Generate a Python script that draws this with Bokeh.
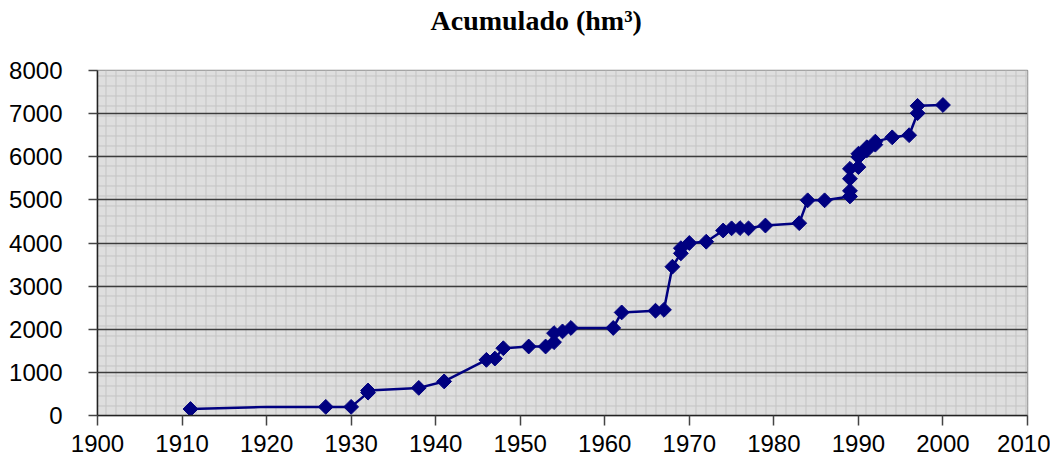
from bokeh.plotting import figure
from bokeh.models import Range1d, BoxAnnotation, SingleIntervalTicker, Title
from bokeh.embed import file_html
from bokeh.resources import INLINE
import numpy as np

title_text = "Acumulado (hm³)"

years = [1911, 1927, 1930, 1932, 1932, 1938, 1941, 1946, 1947, 1948, 1951, 1953,
         1954, 1954, 1955, 1956, 1961, 1962, 1966, 1967, 1968, 1969, 1969, 1970,
         1972, 1974, 1975, 1976, 1977, 1979, 1983, 1984, 1986, 1989, 1989, 1989,
         1989, 1990, 1990, 1990, 1991, 1991, 1992, 1992, 1994, 1996, 1997, 1997, 2000]
values = [150, 200, 200, 530, 580, 640, 790, 1290, 1320, 1560, 1600, 1600,
          1700, 1910, 1950, 2030, 2030, 2390, 2430, 2450, 3450, 3760, 3880, 4000,
          4030, 4290, 4340, 4345, 4340, 4405, 4460, 4990, 4990, 5080, 5210, 5490,
          5720, 5760, 5990, 6070, 6150, 6220, 6280, 6350, 6450, 6500, 7010, 7180, 7200]

# point on the line with no marker
unmarked_year = [1920]
unmarked_value = [200]

line_x = [years[0]] + unmarked_year + years[1:]
line_y = [values[0]] + unmarked_value + values[1:]

p = figure(width=1050, height=466, output_backend="svg", toolbar_location=None,
           x_range=Range1d(1900, 2010), y_range=Range1d(0, 8000),
           min_border_left=97, min_border_right=23, min_border_top=70, min_border_bottom=51,
           title=title_text)

p.background_fill_color = "white"
p.border_fill_color = "white"
p.outline_line_color = "#909090"
p.outline_line_width = 1.5

p.title.text_font = "Liberation Serif"
p.title.text_font_style = "bold"
p.title.text_font_size = "28px"
p.title.align = "left"
p.title.vertical_align = "top"
p.title.offset = 333
p.title.standoff = 8
p.title.text_color = "black"

# blank spacer between the title and the plot area, pushes the title upwards
spacer = Title(text=" ", text_font="Liberation Sans", text_font_size="10px", standoff=16)
p.add_layout(spacer, "above")

bg = BoxAnnotation(fill_color="#dedede", fill_alpha=1.0, line_color=None,
                   hatch_pattern="+", hatch_color="#c3c3c3", hatch_scale=10,
                   hatch_weight=1, level="image")
p.add_layout(bg)

p.xgrid.grid_line_color = None
p.ygrid.grid_line_color = "#3c3c3c"
p.ygrid.grid_line_width = 1.3

p.xaxis.ticker = SingleIntervalTicker(interval=10)
p.yaxis.ticker = SingleIntervalTicker(interval=1000)
p.xaxis.minor_tick_line_color = None
p.yaxis.minor_tick_line_color = None
for ax in (p.xaxis, p.yaxis):
    ax.axis_line_color = "#222222"
    ax.axis_line_width = 1.5
    ax.major_tick_line_color = "#444444"
    ax.major_tick_line_width = 1.5
    ax.major_tick_in = 0
    ax.major_label_text_font = "Liberation Sans"
    ax.major_label_text_font_size = "24px"
    ax.major_label_text_color = "black"
p.xaxis.major_tick_out = 10
p.xaxis.major_label_standoff = 9
p.yaxis.major_tick_out = 9
p.yaxis.major_label_standoff = 26

p.line(line_x, line_y, line_color="#000080", line_width=2.5)
p.scatter(years, values, marker="square", size=10.5, angle=np.pi / 4,
          fill_color="#000080", line_color="#000080")

open("out.html", "w").write(file_html(p, INLINE))
